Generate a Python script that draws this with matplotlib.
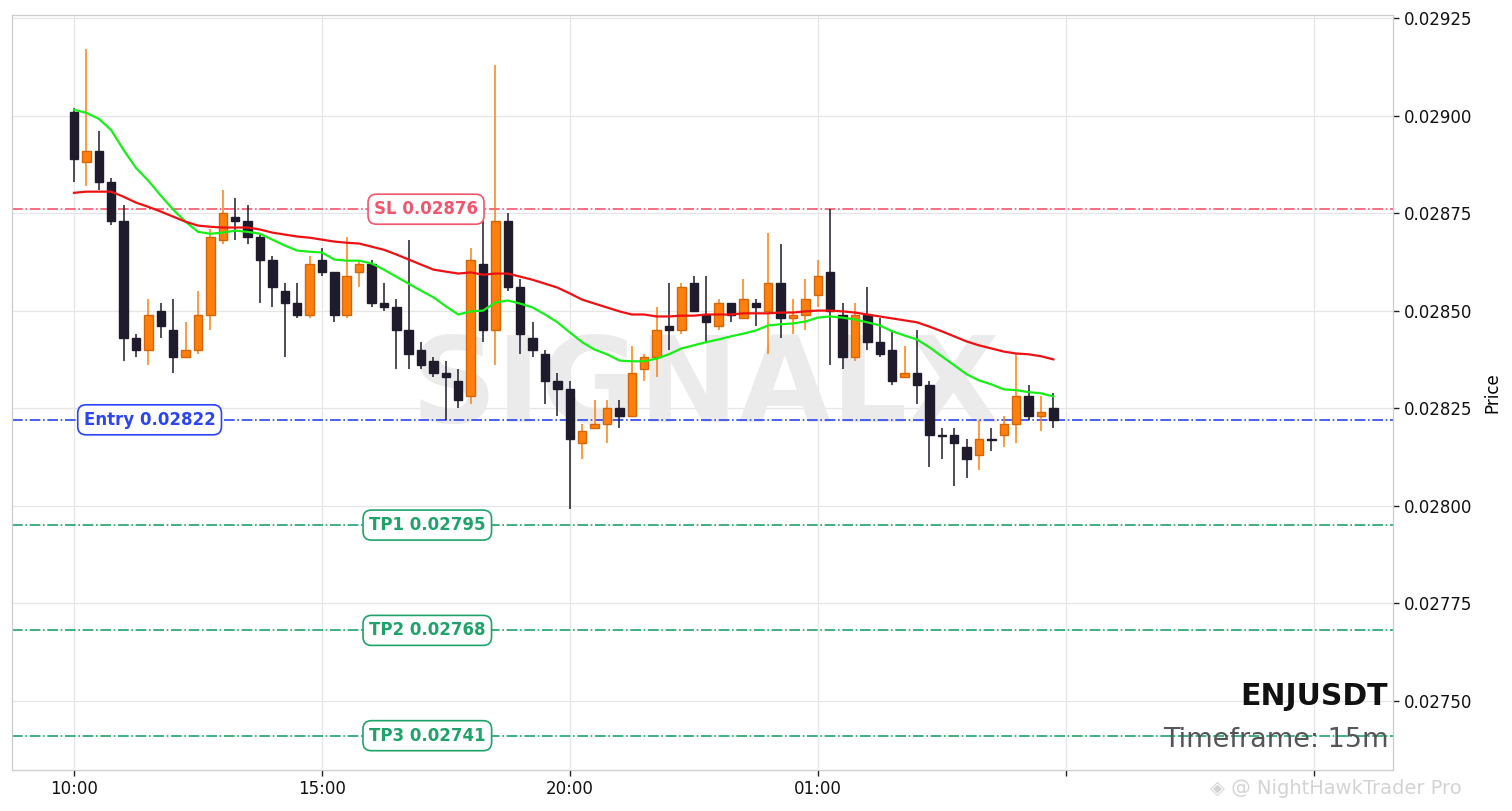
import numpy as np
import pandas as pd
import matplotlib
matplotlib.use("Agg")
import matplotlib.pyplot as plt
from matplotlib.ticker import MultipleLocator, FuncFormatter

symbol = "ENJUSDT"
timeframe = "15m"
start_time = "2024-01-01 10:00"

opens = [0.02901, 0.02888, 0.02891, 0.02883, 0.02873, 0.02843, 0.02840, 0.02850, 0.02845, 0.02838,
         0.02840, 0.02849, 0.02868, 0.02874, 0.02873, 0.02869, 0.02863, 0.02855, 0.02852, 0.02849,
         0.02863, 0.02860, 0.02849, 0.02860, 0.02862, 0.02852, 0.02851, 0.02845, 0.02840, 0.02837,
         0.02834, 0.02832, 0.02828, 0.02862, 0.02845, 0.02873, 0.02856, 0.02843, 0.02839, 0.02832,
         0.02830, 0.02816, 0.02820, 0.02821, 0.02825, 0.02823, 0.02835, 0.02838, 0.02846, 0.02845,
         0.02857, 0.02849, 0.02846, 0.02852, 0.02848, 0.02852, 0.02850, 0.02857, 0.02848, 0.02849,
         0.02854, 0.02860, 0.02849, 0.02838, 0.02849, 0.02842, 0.02840, 0.02833, 0.02834, 0.02831,
         0.028182, 0.02818, 0.02815, 0.02813, 0.028172, 0.02818, 0.02821, 0.02828, 0.02823, 0.02825]

highs = [0.02902, 0.02917, 0.02896, 0.02884, 0.02877, 0.02844, 0.02853, 0.02852, 0.02853, 0.02847,
         0.02855, 0.02871, 0.02881, 0.02879, 0.02877, 0.02870, 0.02864, 0.02857, 0.02857, 0.02864,
         0.02866, 0.02860, 0.02869, 0.02863, 0.02863, 0.02857, 0.02853, 0.02868, 0.02842, 0.02838,
         0.02837, 0.02835, 0.02866, 0.02873, 0.02913, 0.02875, 0.02858, 0.02847, 0.02840, 0.02834,
         0.02832, 0.02821, 0.02827, 0.02827, 0.02827, 0.02841, 0.02839, 0.02851, 0.02857, 0.02857,
         0.02859, 0.02859, 0.02853, 0.02852, 0.02858, 0.02853, 0.02870, 0.02867, 0.02853, 0.02858,
         0.02863, 0.02876, 0.02852, 0.02852, 0.02856, 0.02848, 0.02845, 0.02841, 0.02845, 0.02832,
         0.02820, 0.02820, 0.02817, 0.02822, 0.02820, 0.02823, 0.02839, 0.02831, 0.02828, 0.02829]

lows = [0.02883, 0.02882, 0.02881, 0.02872, 0.02837, 0.02838, 0.02836, 0.02843, 0.02834, 0.02838,
        0.02839, 0.02845, 0.02867, 0.02868, 0.02867, 0.02852, 0.02851, 0.02838, 0.02848, 0.02848,
        0.02859, 0.02847, 0.02848, 0.02856, 0.02851, 0.02850, 0.02835, 0.02835, 0.02835, 0.02833,
        0.02822, 0.02825, 0.02826, 0.02842, 0.02836, 0.02855, 0.02839, 0.02838, 0.02826, 0.02823,
        0.02799, 0.02812, 0.02820, 0.02816, 0.02820, 0.02823, 0.02832, 0.02833, 0.02840, 0.02844,
        0.02850, 0.02842, 0.02845, 0.02847, 0.02848, 0.02846, 0.02839, 0.02843, 0.02844, 0.02845,
        0.02851, 0.02836, 0.02835, 0.02837, 0.02840, 0.02838, 0.02831, 0.02833, 0.02826, 0.02810,
        0.02812, 0.02805, 0.02807, 0.02809, 0.02814, 0.02815, 0.02816, 0.02822, 0.02819, 0.02820]

closes = [0.02889, 0.02891, 0.02883, 0.02873, 0.02843, 0.02840, 0.02849, 0.02846, 0.02838, 0.02840,
          0.02849, 0.02869, 0.02875, 0.02873, 0.02869, 0.02863, 0.02856, 0.02852, 0.02849, 0.02862,
          0.02860, 0.02849, 0.02859, 0.02862, 0.02852, 0.02851, 0.02845, 0.02839, 0.02836, 0.02834,
          0.02833, 0.02827, 0.02863, 0.02845, 0.02873, 0.02856, 0.02844, 0.02840, 0.02832, 0.02830,
          0.02817, 0.02819, 0.02821, 0.02825, 0.02823, 0.02834, 0.02838, 0.02845, 0.02845, 0.02856,
          0.02850, 0.02847, 0.02852, 0.02849, 0.02853, 0.02851, 0.02857, 0.02848, 0.02849, 0.02853,
          0.02859, 0.02850, 0.02838, 0.02849, 0.02842, 0.02839, 0.02832, 0.02834, 0.02831, 0.02818,
          0.028178, 0.02816, 0.02812, 0.02817, 0.028168, 0.02821, 0.02828, 0.02823, 0.02824, 0.02822]

ema_fast = [0.029015, 0.029007, 0.028992, 0.028963, 0.028912, 0.028866, 0.028833, 0.028795, 0.028759, 0.028728,
            0.028702, 0.028697, 0.028700, 0.028705, 0.028702, 0.028697, 0.028682, 0.028667, 0.028654, 0.028651,
            0.028649, 0.028631, 0.028628, 0.028628, 0.028621, 0.028605, 0.028587, 0.028569, 0.028551, 0.028534,
            0.028511, 0.028490, 0.028498, 0.028500, 0.028521, 0.028526, 0.028518, 0.028508, 0.028490, 0.028470,
            0.028444, 0.028419, 0.028400, 0.028388, 0.028372, 0.028370, 0.028370, 0.028377, 0.028388, 0.028403,
            0.028411, 0.028419, 0.028426, 0.028434, 0.028441, 0.028449, 0.028462, 0.028465, 0.028467, 0.028472,
            0.028482, 0.028485, 0.028482, 0.028477, 0.028470, 0.028462, 0.028447, 0.028436, 0.028426, 0.028406,
            0.028383, 0.028360, 0.028337, 0.028321, 0.028311, 0.028298, 0.028296, 0.028291, 0.028288, 0.028280]

ema_slow = [0.028802, 0.028805, 0.028805, 0.028805, 0.028792, 0.028777, 0.028766, 0.028754, 0.028741, 0.028728,
            0.028718, 0.028715, 0.028713, 0.028713, 0.028713, 0.028708, 0.028700, 0.028695, 0.028690, 0.028687,
            0.028682, 0.028677, 0.028674, 0.028672, 0.028664, 0.028656, 0.028644, 0.028631, 0.028618, 0.028605,
            0.028600, 0.028595, 0.028598, 0.028592, 0.028595, 0.028595, 0.028587, 0.028579, 0.028569, 0.028559,
            0.028544, 0.028528, 0.028518, 0.028508, 0.028498, 0.028490, 0.028490, 0.028485, 0.028485, 0.028487,
            0.028487, 0.028490, 0.028490, 0.028490, 0.028493, 0.028493, 0.028493, 0.028495, 0.028495, 0.028498,
            0.028500, 0.028500, 0.028498, 0.028495, 0.028490, 0.028485, 0.028480, 0.028475, 0.028470, 0.028459,
            0.028447, 0.028434, 0.028421, 0.028411, 0.028403, 0.028395, 0.028390, 0.028388, 0.028383, 0.028375]

entry_price = 0.02822
stop_loss = 0.02876
tp_prices = [0.02795, 0.02768, 0.02741]
tp_names = ["TP1", "TP2", "TP3"]

# ---------------------------------------------------------------
W, H = 1512, 811
fig = plt.figure(figsize=(W / 100, H / 100), dpi=100)
ax = fig.add_axes([12 / W, 41 / H, 1381 / W, 755 / H])

n = len(closes)
x = np.arange(n)
times = pd.date_range(start_time, periods=n, freq="15min")

up_face, up_edge = "#ff7f0e", "#d46608"
dn_face, dn_edge = "#1f1b2d", "#1f1b2d"

o = np.array(opens); c = np.array(closes); h = np.array(highs); l = np.array(lows)
up = c >= o
body_w = 0.68
for i in range(n):
    fc = up_face if up[i] else dn_face
    ec = up_edge if up[i] else dn_edge
    ax.vlines(x[i], l[i], h[i], color=fc, lw=1.1, zorder=3)
    ax.bar(x[i], abs(c[i] - o[i]), bottom=min(o[i], c[i]), width=body_w,
           color=fc, edgecolor=ec, linewidth=1.0, zorder=4)

ax.plot(x, ema_fast, color="#16f016", lw=1.6, zorder=5)
ax.plot(x, ema_slow, color="#ee1111", lw=1.6, zorder=5)

sl_col = "#f2566c"
en_col = "#2b45f0"
tp_col = "#1fa36a"
ax.axhline(stop_loss, color=sl_col, ls="-.", lw=1.2, zorder=2)
ax.axhline(entry_price, color=en_col, ls="-.", lw=1.2, zorder=2)
for p in tp_prices:
    ax.axhline(p, color=tp_col, ls="-.", lw=1.2, zorder=2)

def tag(xp, yp, s, col):
    ax.text(xp, yp, s, color=col, fontsize=12, fontweight="bold", ha="center", va="center",
            zorder=7, bbox=dict(boxstyle="round,pad=0.36,rounding_size=0.5", fc="white", ec=col, lw=1.2))

tag(28.4, stop_loss, f"SL {stop_loss:.5f}", sl_col)
tag(6.1, entry_price, f"Entry {entry_price:.5f}", en_col)
for name, p in zip(tp_names, tp_prices):
    tag(28.5, p, f"{name} {p:.5f}", tp_col)

# watermark
ax.text(0.502, 0.505, "SIGNALX", transform=ax.transAxes, fontsize=86, fontweight="bold",
        color="#ebebeb", ha="center", va="center", zorder=1)

ax.text(0.9965, 0.097, symbol, transform=ax.transAxes, fontsize=21.5, fontweight="bold",
        color="#111111", ha="right", va="center", zorder=8)
ax.text(0.9965, 0.04, f"Timeframe: {timeframe}", transform=ax.transAxes, fontsize=19.5,
        color="#555555", ha="right", va="center", zorder=8)

# axes limits
lo = min(min(lows), min(tp_prices))
hi = max(max(highs), stop_loss)
rng = hi - lo
ax.set_ylim(lo - 0.05 * rng, hi + 0.05 * rng)
ax.set_xlim(-5.0, 106.4)

ax.yaxis.tick_right()
ax.yaxis.set_label_position("right")
ax.yaxis.set_major_locator(MultipleLocator(0.00025))
ax.yaxis.set_major_formatter(FuncFormatter(lambda v, _: f"{v:.5f}"))
ax.set_ylabel("Price", fontsize=12, labelpad=8)

tick_idx = [0, 20, 40, 60, 80, 100]
ax.set_xticks(tick_idx)
ax.set_xticklabels([times[i].strftime("%H:%M") if i < n - 1 else "" for i in tick_idx])

ax.tick_params(axis="both", labelsize=12, length=4, width=1, color="#222222", labelcolor="#111111")
ax.grid(True, color="#e6e6e6", lw=0.9, zorder=0)
ax.set_axisbelow(True)
for s in ax.spines.values():
    s.set_color("#cccccc")
    s.set_linewidth(0.9)

fig.text(0.800, 0.028, "\u25c8 @ NightHawkTrader Pro", fontsize=14, color="#cfcfcf",
         ha="left", va="center", alpha=0.9)

fig.savefig("out.png", dpi=100)
